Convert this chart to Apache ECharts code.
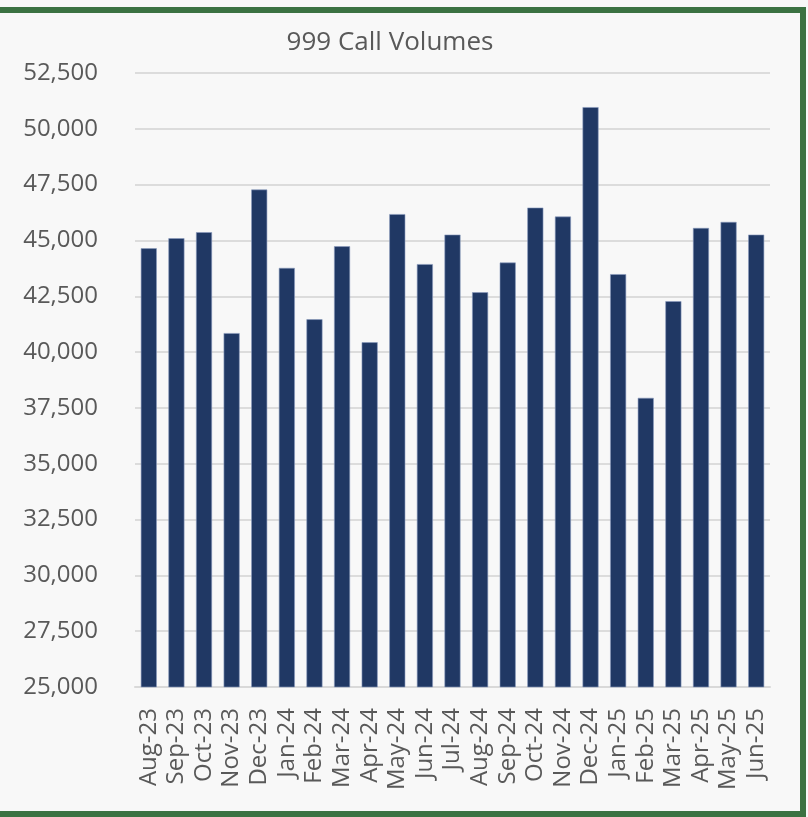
<!DOCTYPE html>
<html>
<head>
<meta charset="utf-8">
<script src="https://cdn.jsdelivr.net/npm/echarts@6/dist/echarts.min.js"></script>
<style>
  html, body { margin: 0; padding: 0; background: #f8f8f8; }
  #frame {
    position: absolute; left: 0; top: 7px;
    width: 800px; height: 798px;
    border-top: 6px solid #3b7242;
    border-right: 6px solid #3b7242;
    border-bottom: 6px solid #3b7242;
  }
  #chart { width: 800px; height: 798px; }
</style>
</head>
<body>
<div id="frame"><div id="chart"></div></div>
<script>
var months = ['Aug-23','Sep-23','Oct-23','Nov-23','Dec-23','Jan-24','Feb-24','Mar-24','Apr-24','May-24','Jun-24','Jul-24',
  'Aug-24','Sep-24','Oct-24','Nov-24','Dec-24','Jan-25','Feb-25','Mar-25','Apr-25','May-25','Jun-25'];
var callVolumes = [44650, 45100, 45370, 40850, 47280, 43770, 41470, 44740, 40440, 46180, 43940, 45260,
  42680, 44010, 46470, 46070, 50970, 43490, 37950, 42280, 45560, 45830, 45260];
var yMin = 25000, yMax = 52500, yStep = 2500;

var chart = echarts.init(document.getElementById('chart'));
var option = {
  backgroundColor: '#f8f8f8',
  animation: false,
  title: {
    text: '999 Call Volumes',
    left: 385, top: 12,
    textAlign: 'center',
    textStyle: { fontFamily: 'Open Sans', fontSize: 26, fontWeight: 'normal', color: '#595959' }
  },
  grid: { left: 135, right: 30, top: 60, bottom: 124 },
  xAxis: {
    type: 'category',
    data: months,
    axisLine: { lineStyle: { color: '#d9d9d9', width: 2 } },
    axisTick: { show: false },
    axisLabel: {
      rotate: 90, margin: 21, interval: 0,
      fontFamily: 'Open Sans', fontSize: 24, color: '#595959'
    }
  },
  yAxis: {
    type: 'value',
    min: yMin, max: yMax, interval: yStep,
    axisLine: { show: false },
    axisTick: { show: false },
    splitLine: { lineStyle: { color: '#dcdcdc', width: 2 } },
    axisLabel: {
      margin: 37,
      fontFamily: 'Open Sans', fontSize: 24, color: '#595959',
      formatter: function (v) { return v.toLocaleString('en-US'); }
    }
  },
  series: [{
    type: 'bar',
    data: callVolumes,
    barCategoryGap: '42%',
    itemStyle: { color: '#203864', borderColor: '#8a9bbd', borderWidth: 0.6 }
  }]
};
chart.setOption(option);
</script>
</body>
</html>
